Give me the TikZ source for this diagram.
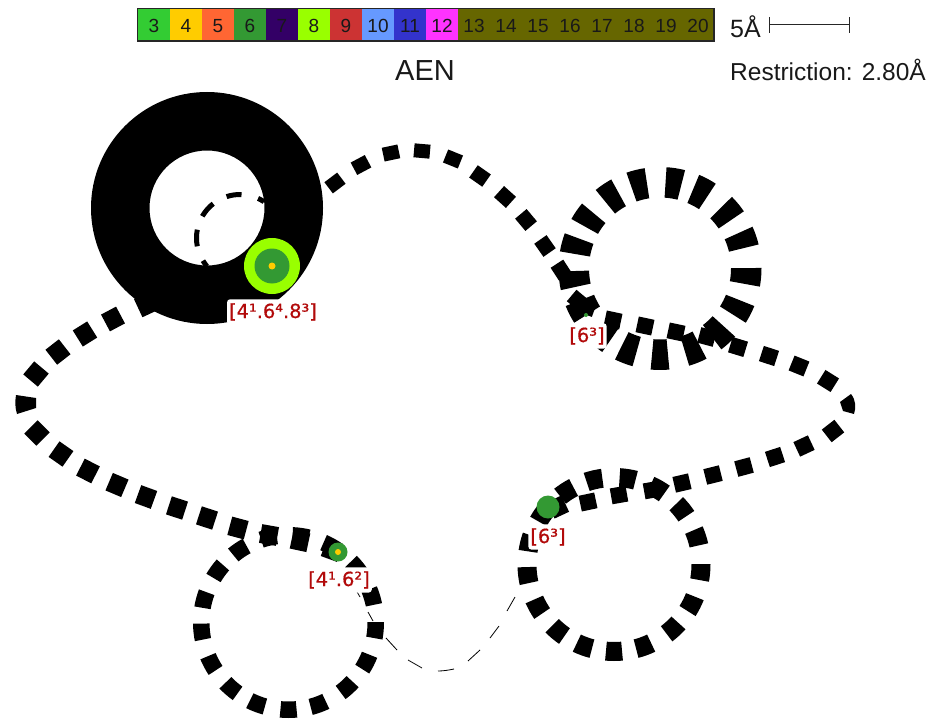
\documentclass[tikz,border=0pt]{standalone}
\usepackage{fontspec}
\setmainfont{Liberation Sans}
\newfontfamily\lblfont[FakeBold=0.6]{DejaVu Sans}
\definecolor{c3}{HTML}{33CC33}
\definecolor{c4}{HTML}{FFCC00}
\definecolor{c5}{HTML}{FF6633}
\definecolor{c6}{HTML}{339933}
\definecolor{c7}{HTML}{330066}
\definecolor{c8}{HTML}{99FF00}
\definecolor{c9}{HTML}{CC3333}
\definecolor{c10}{HTML}{6699FF}
\definecolor{c11}{HTML}{3333CC}
\definecolor{c12}{HTML}{FF33FF}
\definecolor{c13}{HTML}{666600}
\definecolor{lblred}{HTML}{B20A0A}
\tikzset{
  lgtext/.style={font=\fontsize{19}{19}\selectfont,anchor=base,text=black!90,inner sep=0pt},
  titletext/.style={font=\fontsize{24.5}{25}\selectfont,anchor=base west,text=black!90,inner sep=0pt},
  ringlabel/.style={font=\lblfont\fontsize{19.4}{19}\selectfont,text=lblred,fill=white,rounded corners=3pt,anchor=base,inner xsep=2pt,inner ysep=4pt}
}
% rectangular dash: centre x,y, screen angle, half length, half width
\newcommand{\dsh}[5]{%
  \pgfmathsetmacro{\dc}{cos(#3)}\pgfmathsetmacro{\ds}{sin(#3)}%
  \fill[black] ({#1+#4*\dc-#5*\ds},{#2+#4*\ds+#5*\dc}) -- ({#1+#4*\dc+#5*\ds},{#2+#4*\ds-#5*\dc})
     -- ({#1-#4*\dc+#5*\ds},{#2-#4*\ds-#5*\dc}) -- ({#1-#4*\dc-#5*\ds},{#2-#4*\ds+#5*\dc}) -- cycle;}
% wedge: centre, inner r, outer r, math angle, half angle
\newcommand{\wdg}[6]{%
  \fill[black] ({#1+#4*cos(#5-#6)},{#2-#4*sin(#5-#6)}) arc[start angle={-(#5-#6)},end angle={-(#5+#6)},radius=#4]
    -- ({#1+#3*cos(#5+#6)},{#2-#3*sin(#5+#6)}) arc[start angle={-(#5+#6)},end angle={-(#5-#6)},radius=#3] -- cycle;}
\begin{document}
\begin{tikzpicture}[x=1pt,y=-1pt]
\useasboundingbox (0,0) rectangle (936,719);
% legend
\foreach \n/\xa/\col in {3/138/c3,4/170/c4,5/202/c5,6/234/c6,7/266/c7,8/298/c8,9/330/c9,10/362/c10,11/394/c11,12/426/c12}
  {\fill[\col] (\xa,9) rectangle (\xa+32,41);
   \node[lgtext] (lg\n) at (\xa+16,33) {\n};}
\fill[c13] (458,9) rectangle (714,41);
\foreach \n/\xc in {13/474,14/506,15/538,16/570,17/602,18/634,19/666,20/698}
  {\node[lgtext] (lg\n) at (\xc,33) {\n};}
\draw[line width=1.6pt,black!85] (137.5,8.5) rectangle (714,41);
\node[titletext,font=\fontsize{29}{29}\selectfont,anchor=base] (title) at (425,81) {AEN};
\node[titletext,font=\fontsize{25}{25}\selectfont] (scale) at (730,38) {5Å};
\node[titletext] (restr) at (730,81) {Restriction: 2.80Å};
\draw[line width=1pt,black!85] (769,17)--(769,33) (769,25)--(849,25) (849,17)--(849,33);
% big ring
\fill[black,even odd rule] (207,208) circle[radius=116] (207,208) circle[radius=57.5];
\foreach \a/\h in {180/11,139/11,98/10,61/4.5,-144/4.5}
  {\wdg{240}{238}{41}{46}{\a}{\h}}
% ring 1
\foreach \a in {-130,-111,-90,-68,-47.5,-27,-5,19,39.6,62,81,104,124,145.5,165,187,207}
  {\wdg{660}{268.5}{71}{101.5}{\a}{5.3}}
% ring 2
\foreach \a in {-173,-151,-130,-110,-90,-70,-47.5,-27,-5,18,39,60,81,103,123,145,166}
  {\wdg{614}{564.5}{77.5}{96.5}{\a}{5.3}}
% ring 3
\foreach \a in {-174,-152,-131,-111,-90,-70,-48,-27,-5,17,39,61,82,103,124,144,165}
  {\wdg{288.5}{622.5}{79}{95.5}{\a}{5.3}}
% path dashes
\foreach \x/\y/\a/\l/\w in {
  335/183/-37/8/7, 361/165/-28/8/7, 391/153/-12/8/7, 422/151/5/8/7, 453/159/22/8/7,
  480/176/35/8/7.5, 505/197/42/8/7.5, 526/220/50/8/7.5, 545/246/55/8/7.5, 561/270/57/7.5/7.5,
  577/300/40/7/7.5, 588/307/20/7/8,
  613/320/12/8/8, 645/326/12/8/8, 676/332/12/8/8, 707/337/15/8/8, 738/347/17/8/8,
  769/356/18/8/8, 799/366/22/8/8, 828/381/32/8/8,
  833/431/-38/8/8, 804/446/-25/8/8, 775/457/-18/8/8, 744/467/-15/8/8, 713/475/-14/8/8, 682/483/-13/8/8,
  652/490/-10/8/8, 619/495/-10/8/8, 588/502/-12/8/8, 558/507/-25/8/9,
  145/305/-25/7.5/10, 113/319/-28/8.5/9.5, 85/334/-32/8.5/9.5, 58/352/-38/8.5/9.5, 36/374/-50/8.5/9.5,
  37/433/45/8.5/9.5, 61/454/35/8.5/9.5, 88/471/27/8.5/9.5, 117/485/23/8.5/9.5, 146/497/20/8.5/9.5,
  177/508/18/8.5/9.5, 207/518/18/8.5/9.5, 238/528/15/8.5/9.5, 269/535/10/8.5/9.5, 300/541/12/8.5/9.5, 332/550/20/8.5/9.5}
  {\dsh{\x}{\y}{\a}{\l}{\w}}
% turning pieces of the path
\fill[black] (16,395) -- (36,398) -- (36,408) -- (17,414) .. controls (15,408) and (15,401) .. (16,395) -- cycle;
\fill[black] (851,394) -- (840,402) -- (843,411) -- (854,414) .. controls (856,408) and (856,400) .. (851,394) -- cycle;
% thin dashed strand
\foreach \xa/\ya/\xb/\yb in {356/590/360/597,368/612/373/621,386/638/397/650,408/660/422/668,
   480/650/468/661,499/626/490/638,515/597/507/611}
  {\draw[line width=0.8pt,black] (\xa,\ya)--(\xb,\yb);}
\draw[line width=0.8pt,black] (438,671) .. controls (444,671) and (449,670) .. (454,669);
% vertex dots
\fill[c8] (272,266) circle[radius=28];
\fill[c6] (272,266) circle[radius=17.5];
\fill[c4] (272,266) circle[radius=3.5];
\fill[c6] (338,552) circle[radius=9.5];
\fill[c4] (338,552) circle[radius=3];
\fill[c6] (548,507) circle[radius=11.5];
\fill[c6] (586,315) circle[radius=2];
% labels
\node[ringlabel] (l1) at (273,318) {[4¹.6⁴.8³]};
\node[ringlabel] (l2) at (587,342) {[6³]};
\node[ringlabel] (l3) at (548,543) {[6³]};
\node[ringlabel] (l4) at (339,586) {[4¹.6²]};
\end{tikzpicture}
\end{document}
